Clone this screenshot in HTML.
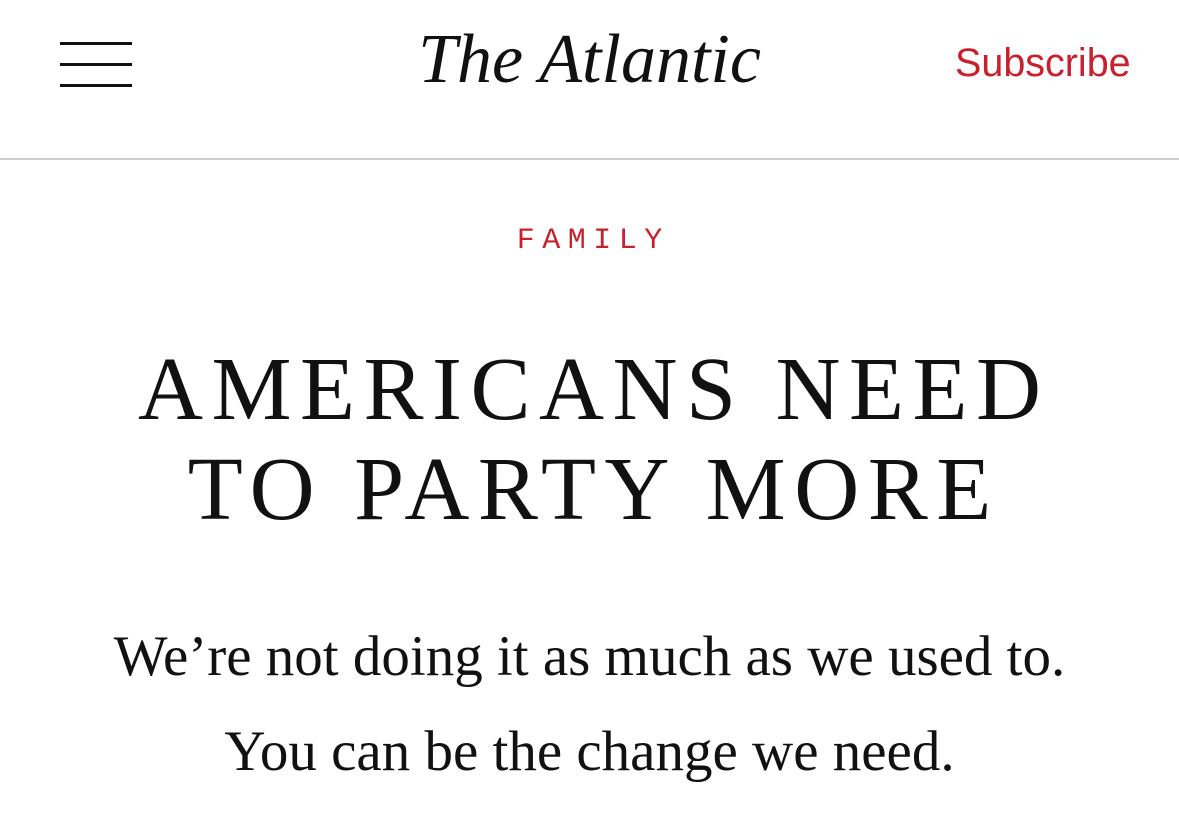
<!DOCTYPE html>
<html><head><meta charset="utf-8">
<style>
html,body{margin:0;padding:0;background:#fff;width:1179px;height:831px;overflow:hidden;position:relative}
.abs{position:absolute}
.menu span{position:absolute;left:0;width:72px;height:3px;background:#111}
.logo{left:0;width:1179px;top:18px;text-align:center;font-family:"Liberation Serif",serif;font-style:italic;font-size:70px;color:#111;line-height:84px}
.sub{left:955px;top:39px;font-family:"Liberation Sans",sans-serif;font-size:39.5px;color:#c9202e;line-height:48px}
.rule{left:0;top:158px;width:1179px;height:2px;background:#cfcfcf}
.sect{left:0;width:1179px;top:222px;text-align:center;font-family:"Liberation Mono",monospace;font-size:30px;letter-spacing:7.5px;padding-left:7.5px;box-sizing:border-box;color:#c9202e;line-height:38px}
.head{left:0;width:1179px;text-align:center;font-family:"Liberation Serif",serif;font-size:90px;color:#111;letter-spacing:8.5px;padding-left:8.5px;box-sizing:border-box;line-height:100px}
.dek{left:0;width:1179px;text-align:center;font-family:"Liberation Serif",serif;font-size:57px;color:#111;line-height:64px}
</style></head><body>
<div class="abs menu" style="left:60px;top:42px;width:72px;height:46px">
<span style="top:0"></span><span style="top:21px"></span><span style="top:42px"></span></div>
<div class="abs logo">The Atlantic</div>
<div class="abs sub">Subscribe</div>
<div class="abs rule"></div>
<div class="abs sect">FAMILY</div>
<div class="abs head" style="top:340px">AMERICANS NEED</div>
<div class="abs head" style="top:440px">TO PARTY MORE</div>
<div class="abs dek" style="top:625px">We’re not doing it as much as we used to.</div>
<div class="abs dek" style="top:720px">You can be the change we need.</div>
</body></html>
